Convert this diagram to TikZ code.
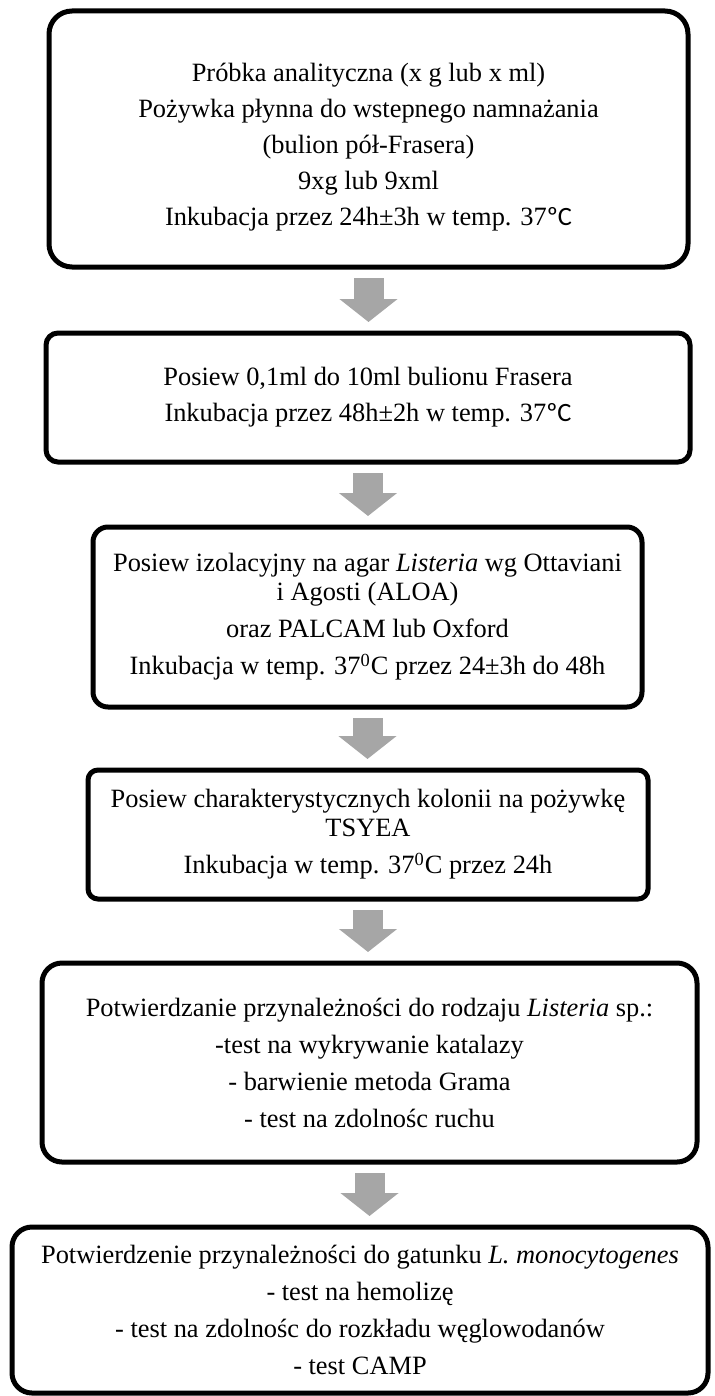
\documentclass[tikz,border=0pt]{standalone}
\usepackage{fontspec}
\setmainfont{Liberation Serif}
\newfontfamily\calibri{Carlito}
\usetikzlibrary{arrows.meta}

\definecolor{arrowgray}{RGB}{166,166,166}
\newcommand{\degC}{{\calibri ºC}}

\tikzset{
	box/.style={draw, line width=2.5pt, align=center, inner sep=0pt,
		font=\fontsize{13.2}{14.5}\selectfont},
	flow/.style={draw=arrowgray, line width=15pt,
		-{Triangle[width=28.5pt,length=11.5pt]},
		shorten <=4.25pt, shorten >=4.25pt}
}

\begin{document}
\begin{tikzpicture}[x=0.5pt,y=-0.5pt]
	\useasboundingbox (0,0) rectangle (715,1396);

	\node[box, minimum width=319.5pt, minimum height=128pt, rounded corners=11.5pt] (1) at (368.5,139)
		{\rule{0pt}{17pt}Próbka analityczna (x g lub x ml)\\[3.5pt]
		 Pożywka płynna do wstepnego namnażania\\[3.5pt]
		 (bulion pół-Frasera)\\[3.5pt]
		 9xg lub 9xml\\[3.5pt]
		 Inkubacja przez 24h±3h w temp. 37\degC};
	\node[box, minimum width=322pt, minimum height=64.5pt, rounded corners=6pt] (2) at (368,397.5)
		{Posiew 0,1ml do 10ml bulionu Frasera\\[3.5pt]
		 Inkubacja przez 48h±2h w temp. 37\degC};
	\node[box, minimum width=274.5pt, minimum height=90pt, rounded corners=7.5pt] (3) at (367.5,617)
		{Posiew izolacyjny na agar \textit{Listeria} wg Ottaviani\\
		 i Agosti (ALOA)\\[4pt]
		 oraz PALCAM lub Oxford\\[4pt]
		 Inkubacja w temp. 37\textsuperscript{0}C przez 24±3h do 48h};
	\node[box, minimum width=280pt, minimum height=64.5pt, rounded corners=5pt] (4) at (368,834.5)
		{Posiew charakterystycznych kolonii na pożywkę\\
		 TSYEA\\[4pt]
		 Inkubacja w temp. 37\textsuperscript{0}C przez 24h};
	\node[box, minimum width=327.5pt, minimum height=99.5pt, rounded corners=10pt] (5) at (369.5,1062.5)
		{Potwierdzanie przynależności do rodzaju \textit{Listeria} sp.:\\[4pt]
		 -test na wykrywanie katalazy\\[4pt]
		 - barwienie metoda Grama\\[4pt]
		 - test na zdolnośc ruchu};
	\node[box, minimum width=348pt, minimum height=83pt, rounded corners=10pt] (6) at (360,1310)
		{Potwierdzenie przynależności do gatunku \textit{L. monocytogenes}\\[4pt]
		 - test na hemolizę\\[4pt]
		 - test na zdolnośc do rozkładu węglowodanów\\[4pt]
		 - test CAMP};

	\draw[flow] (1.south) -- (1.south |- 2.north);
	\draw[flow] (2.south) -- (2.south |- 3.north);
	\draw[flow] (3.south) -- (3.south |- 4.north);
	\draw[flow] (4.south) -- (4.south |- 5.north);
	\draw[flow] (5.south) -- (5.south |- 6.north);
\end{tikzpicture}
\end{document}
